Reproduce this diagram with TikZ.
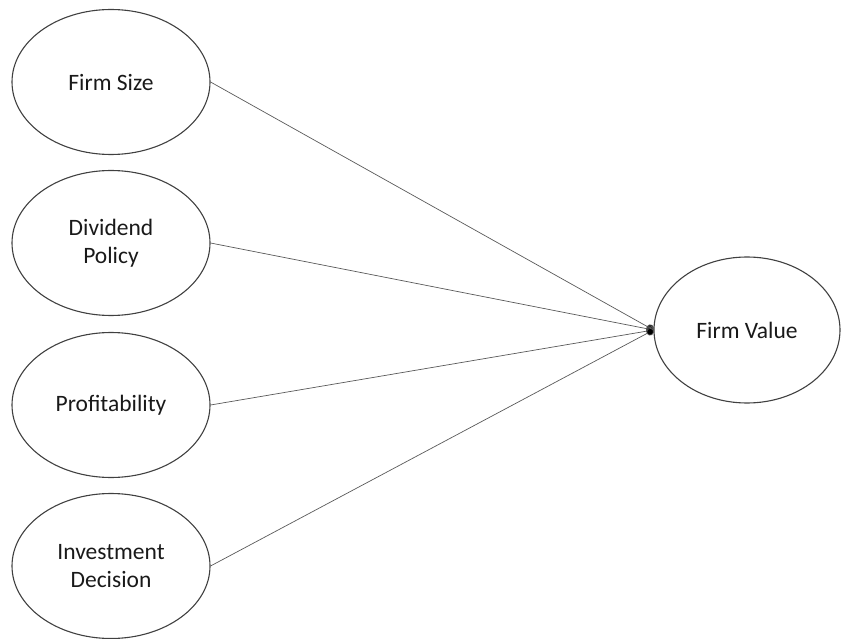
\documentclass[tikz,border=0pt]{standalone}
\usepackage{fontspec}
\setmainfont{Carlito}
\usetikzlibrary{shapes.geometric,arrows.meta}
\begin{document}
\begin{tikzpicture}[x=1pt,y=-1pt,
  var/.style={ellipse,draw=black!75,line width=1.1pt,inner sep=0pt,
    minimum width=198pt,minimum height=145pt,align=center,
    font=\fontsize{23.5}{28}\selectfont,text=black!90},
  link/.style={draw=black!65,line width=0.7pt,-{Circle[length=7.5pt,fill=black]}}]
\useasboundingbox (0,0) rectangle (841,639);
\node[var] (fs) at (111,82) {Firm Size};
\node[var] (dp) at (111,243) {Dividend\\Policy};
\node[var] (pr) at (111,405) {Profitability};
\node[var] (id) at (111,566) {Investment\\Decision};
\node[var,minimum width=186pt,minimum height=146pt] (fv) at (747,330) {Firm Value};
\draw[link] (fs.east) -- (fv.west);
\draw[link] (dp.east) -- (fv.west);
\draw[link] (pr.east) -- (fv.west);
\draw[link] (id.east) -- (fv.west);
\end{tikzpicture}
\end{document}
